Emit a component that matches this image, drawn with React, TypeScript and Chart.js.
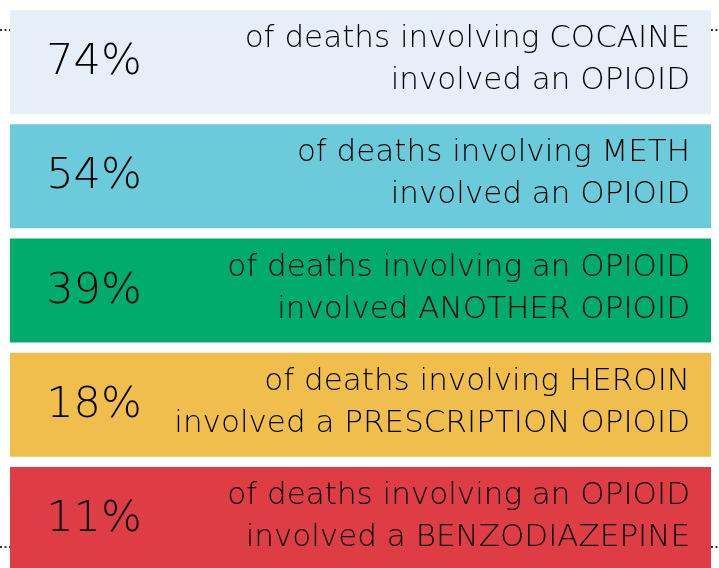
import React, { useEffect, useRef } from "react";
import { Chart, registerables } from "chart.js";

Chart.register(...registerables);

const categories = ["Cocaine", "Meth", "Opioid + opioid", "Heroin + Rx opioid", "Opioid + benzo"];
const percentValues = [74, 54, 39, 18, 11];
const bandValues = [100, 100, 100, 100, 100];
const firstLines = [
  "of deaths involving COCAINE",
  "of deaths involving METH",
  "of deaths involving an OPIOID",
  "of deaths involving HEROIN",
  "of deaths involving an OPIOID",
];
const secondLines = [
  "involved an OPIOID",
  "involved an OPIOID",
  "involved ANOTHER OPIOID",
  "involved a PRESCRIPTION OPIOID",
  "involved a BENZODIAZEPINE",
];
const barColors = ["#E6EEF8", "#6BCBDB", "#00AB6B", "#F0BE4C", "#DE3D45"];

const FONT_FAMILY = '"DejaVu Sans", "Noto Sans", sans-serif';

const dottedLinesPlugin = {
  id: "dottedLines",
  beforeDatasetsDraw(chart: any) {
    const { ctx, chartArea, width } = chart;
    ctx.save();
    ctx.strokeStyle = "#333";
    ctx.lineWidth = 2;
    ctx.setLineDash([2, 2.5]);
    [chartArea.top + 25, chartArea.bottom - 29].forEach((y: number) => {
      ctx.beginPath();
      ctx.moveTo(0, y);
      ctx.lineTo(width, y);
      ctx.stroke();
    });
    ctx.restore();
  },
};

const labelsPlugin = {
  id: "bandLabels",
  afterDatasetsDraw(chart: any) {
    const { ctx } = chart;
    const meta = chart.getDatasetMeta(0);
    ctx.save();
    ctx.fillStyle = "#000";
    meta.data.forEach((bar: any, i: number) => {
      const left = Math.min(bar.base, bar.x);
      const right = Math.max(bar.base, bar.x);
      const cy = bar.y;
      ctx.font = `200 43px ${FONT_FAMILY}`;
      ctx.textAlign = "center";
      ctx.textBaseline = "middle";
      ctx.fillText(`${percentValues[i]}%`, left + 84, cy + 1);
      ctx.font = `200 31px ${FONT_FAMILY}`;
      ctx.textAlign = "right";
      ctx.fillText(firstLines[i], right - 21, cy - 23);
      ctx.fillText(secondLines[i], right - 21, cy + 19);
    });
    ctx.restore();
  },
};

export default function App() {
  const canvasRef = useRef<HTMLCanvasElement | null>(null);

  useEffect(() => {
    document.body.style.margin = "0";
    document.body.style.overflow = "hidden";
    const canvas = canvasRef.current;
    if (!canvas) return;
    const chart = new Chart(canvas, {
      type: "bar",
      data: {
        labels: categories,
        datasets: [
          {
            data: bandValues,
            backgroundColor: barColors,
            borderWidth: 0,
            barPercentage: 0.91,
            categoryPercentage: 1,
          },
        ],
      },
      options: {
        indexAxis: "y",
        animation: false,
        responsive: true,
        maintainAspectRatio: false,
        layout: { padding: { left: 10, right: 8, top: 5, bottom: 0 } },
        plugins: {
          legend: { display: false },
          tooltip: { enabled: false },
        },
        scales: {
          x: { display: false, min: 0, max: 100 },
          y: { display: false },
        },
      },
      plugins: [dottedLinesPlugin, labelsPlugin],
    });
    return () => chart.destroy();
  }, []);

  return (
    <div style={{ width: 719, height: 576, position: "relative" }}>
      <canvas ref={canvasRef} />
    </div>
  );
}
